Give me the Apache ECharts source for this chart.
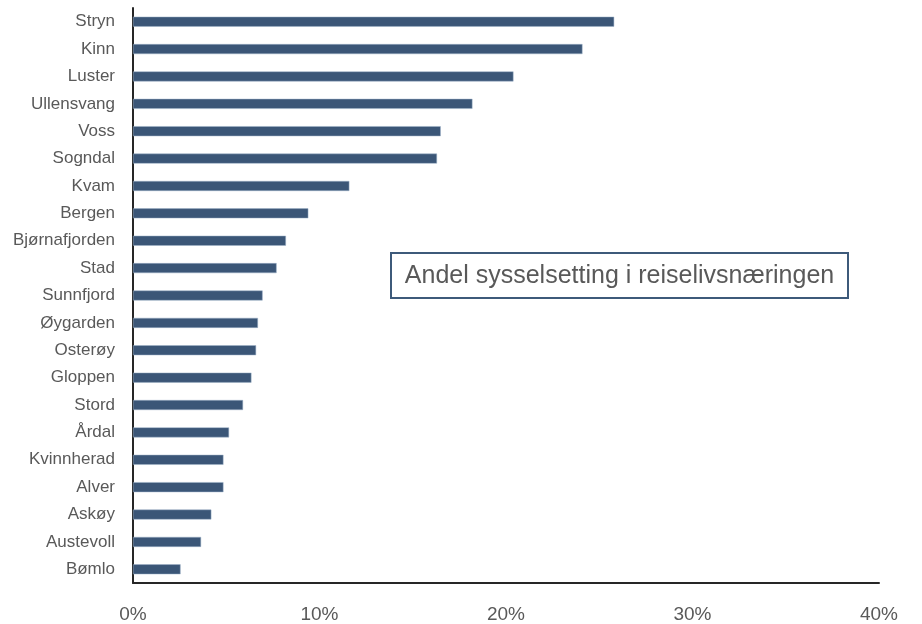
<!DOCTYPE html>
<html>
<head>
<meta charset="utf-8">
<script src="https://cdn.jsdelivr.net/npm/echarts@6/dist/echarts.min.js"></script>
<style>
  html, body { margin: 0; padding: 0; background: #fff; }
  #chart { width: 922px; height: 624px; }
</style>
</head>
<body>
<div id="chart"></div>
<script>
  // kommuner, top to bottom as drawn
  const kommuner = ['Stryn', 'Kinn', 'Luster', 'Ullensvang', 'Voss', 'Sogndal', 'Kvam', 'Bergen',
    'Bjørnafjorden', 'Stad', 'Sunnfjord', 'Øygarden', 'Osterøy', 'Gloppen', 'Stord', 'Årdal',
    'Kvinnherad', 'Alver', 'Askøy', 'Austevoll', 'Bømlo'];
  // andel sysselsetting i reiselivet, prosent
  const andel = [25.8, 24.1, 20.4, 18.2, 16.5, 16.3, 11.6, 9.4,
    8.2, 7.7, 6.95, 6.7, 6.6, 6.35, 5.9, 5.15,
    4.85, 4.85, 4.2, 3.65, 2.55];
  const xTicks = [0, 10, 20, 30, 40];
  const tittel = 'Andel sysselsetting i reiselivsnæringen';

  const chart = echarts.init(document.getElementById('chart'));
  chart.setOption({
    animation: false,
    textStyle: { fontFamily: 'Liberation Sans' },
    grid: { left: 133, right: 43, top: 8, bottom: 40.5, containLabel: false },
    graphic: [{
      type: 'group',
      left: 390, top: 252,
      children: [
        { type: 'rect', shape: { x: 0, y: 0, width: 457, height: 45 },
          style: { fill: '#fff', stroke: '#3d5a7a', lineWidth: 2 } },
        { type: 'text', x: 228.5, y: 23,
          style: { text: tittel, fill: '#595959', font: '25px "Liberation Sans"',
            align: 'center', verticalAlign: 'middle' } }
      ]
    }],
    xAxis: {
      type: 'value',
      min: xTicks[0], max: xTicks[xTicks.length - 1], interval: 10,
      splitLine: { show: false },
      axisTick: { show: false },
      axisLine: { show: true, lineStyle: { color: '#262626', width: 2 } },
      axisLabel: { color: '#595959', fontSize: 19, margin: 22, formatter: (v) => v + '%' }
    },
    yAxis: {
      type: 'category',
      data: kommuner,
      inverse: true,
      axisTick: { show: false },
      axisLine: { show: true, lineStyle: { color: '#262626', width: 2 } },
      axisLabel: { color: '#595959', fontSize: 17, margin: 18 }
    },
    series: [{
      type: 'bar',
      data: andel,
      barWidth: 10,
      itemStyle: { color: '#3b5677', borderColor: '#9fb2c8', borderWidth: 0.5 }
    }]
  });
</script>
</body>
</html>
